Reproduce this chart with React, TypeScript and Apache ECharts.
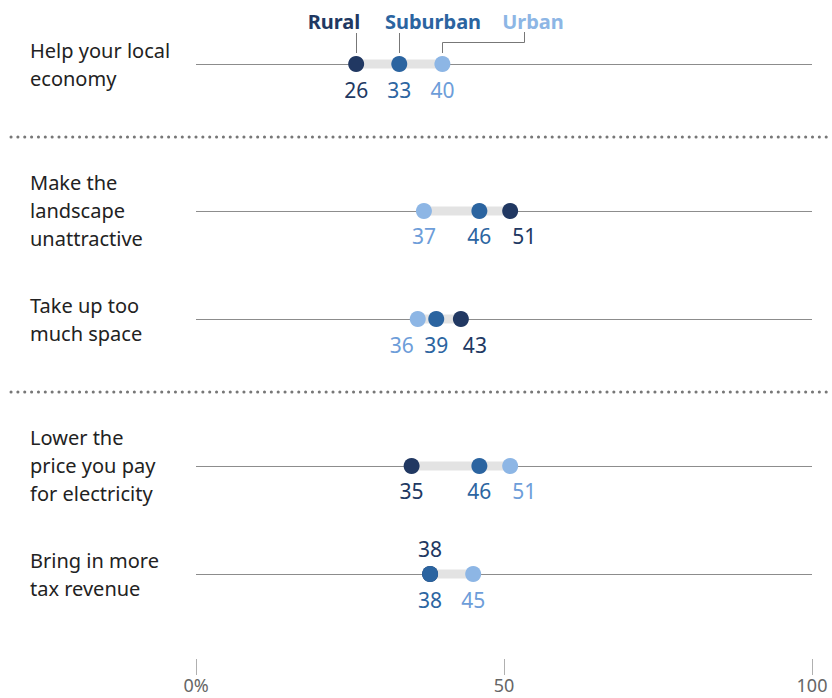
import React, { useEffect, useRef } from 'react';
import * as echarts from 'echarts';

// ---------- data ----------
const categories = [
  'Help your local\neconomy',
  'Make the\nlandscape\nunattractive',
  'Take up too\nmuch space',
  'Lower the\nprice you pay\nfor electricity',
  'Bring in more\ntax revenue',
];
const groupIndex = [0, 1, 1, 2, 2];
const rural = [26, 51, 43, 35, 38];
const suburban = [33, 46, 39, 46, 38];
const urban = [40, 37, 36, 51, 45];
const xTickValues = [0, 50, 100];
const xTickLabels = ['0%', '50', '100'];
const seriesNames = ['Rural', 'Suburban', 'Urban'];

// ---------- layout / style ----------
const W = 832;
const H = 698;
const GROUP_GAP = 0.361;
const CLOSE_GAP = 5; // values this close get their labels pushed apart
const FONT = '"Noto Sans", "Liberation Sans", Arial, sans-serif';
const DOT_COLORS = ['#213862', '#2b64a0', '#8db6e5'];
const LABEL_COLORS = ['#213862', '#2c65a1', '#6d9dd9'];
const LEGEND_COLORS = ['#213862', '#2b64a0', '#8db6e5'];
const LEGEND_CX = [334, 433, 533];

const slots = categories.map((_, i) => i + groupIndex[i] * GROUP_GAP);
const yMin = -0.5;
const yMax = slots[slots.length - 1] + 0.787;

export default function App() {
  const ref = useRef<HTMLDivElement>(null);

  useEffect(() => {
    if (!ref.current) return;
    const chart = echarts.init(ref.current, undefined, { renderer: 'svg' });
    const valuesBySeries = [rural, suburban, urban];

    // label shifts so that neighbouring labels do not collide
    const shifts: number[][] = valuesBySeries.map((vals) => vals.map(() => 0));
    categories.forEach((_, i) => {
      const order = [0, 1, 2]
        .filter((s) => !(s === 0 && rural[i] === suburban[i]))
        .sort((a, b) => valuesBySeries[a][i] - valuesBySeries[b][i]);
      if (order.length === 3) {
        const [a, b, c] = order;
        const va = valuesBySeries[a][i];
        const vb = valuesBySeries[b][i];
        const vc = valuesBySeries[c][i];
        if (vb - va <= CLOSE_GAP) shifts[a][i] = -16;
        if (vc - vb <= CLOSE_GAP) shifts[c][i] = 14;
      }
    });

    const scatterSeries = valuesBySeries.map((vals, s) => ({
      type: 'scatter',
      name: seriesNames[s],
      z: 3 + s,
      symbol: 'circle',
      symbolSize: 16,
      itemStyle: { color: DOT_COLORS[s], opacity: 1 },
      emphasis: { disabled: true },
      label: {
        show: true,
        position: 'bottom',
        distance: 7,
        color: LABEL_COLORS[s],
        fontSize: 21,
        fontFamily: FONT,
        formatter: (p: any) => String(p.value[0]),
      },
      data: vals.map((v, i) => {
        const item: any = { value: [v, slots[i]] };
        if (s === 0 && v === suburban[i]) {
          item.label = { position: 'top', distance: 7 };
        } else if (shifts[s][i] !== 0) {
          item.label = { offset: [shifts[s][i], 0] };
        }
        return item;
      }),
    }));

    const rangeData = slots.map((sl, i) => [
      sl,
      Math.min(rural[i], suburban[i], urban[i]),
      Math.max(rural[i], suburban[i], urban[i]),
    ]);

    chart.setOption({
      animation: false,
      grid: { left: 196, right: 20, top: 10, bottom: 39 },
      xAxis: {
        type: 'value',
        min: 0,
        max: 100,
        interval: 50,
        axisLine: { show: false, onZero: false },
        splitLine: { show: false },
        axisTick: { show: true, length: 16, lineStyle: { color: '#b0b0b0', width: 1 } },
        axisLabel: {
          color: '#666666',
          fontSize: 18,
          fontFamily: FONT,
          margin: 17,
          formatter: (v: number) => {
            const k = xTickValues.indexOf(v);
            return k >= 0 ? xTickLabels[k] : '';
          },
        },
      },
      yAxis: {
        type: 'value',
        inverse: true,
        min: yMin,
        max: yMax,
        show: false,
      },
      series: [
        {
          type: 'custom',
          z: 1,
          silent: true,
          encode: { x: [1, 2], y: 0 },
          data: rangeData,
          renderItem: (params: any, api: any) => {
            const sl = api.value(0);
            const lo = api.value(1);
            const hi = api.value(2);
            const a = api.coord([0, sl]);
            const b = api.coord([100, sl]);
            const p1 = api.coord([lo, sl]);
            const p2 = api.coord([hi, sl]);
            return {
              type: 'group',
              children: [
                {
                  type: 'line',
                  shape: { x1: a[0], y1: a[1] + 0.5, x2: b[0], y2: b[1] + 0.5 },
                  style: { stroke: '#8c8c8c', lineWidth: 1 },
                },
                {
                  type: 'rect',
                  shape: { x: p1[0], y: p1[1] - 4.5, width: p2[0] - p1[0], height: 9 },
                  style: { fill: '#e3e3e3' },
                },
              ],
            };
          },
        },
        ...scatterSeries,
      ],
    });

    // ---------- annotations derived from the chart's own scales ----------
    const px = (x: number, i: number) => chart.convertToPixel({ gridIndex: 0 }, [x, slots[i]]) as number[];
    const graphics: any[] = [];

    categories.forEach((c, i) => {
      graphics.push({
        type: 'text',
        x: 30,
        y: px(0, i)[1],
        style: {
          text: c,
          fontSize: 20,
          fontFamily: FONT,
          fill: '#222222',
          align: 'left',
          verticalAlign: 'middle',
          lineHeight: 28,
        },
      });
    });

    for (let i = 1; i < categories.length; i++) {
      if (groupIndex[i] !== groupIndex[i - 1]) {
        const y = Math.round((px(0, i - 1)[1] + px(0, i)[1]) / 2);
        graphics.push({
          type: 'line',
          shape: { x1: 11, y1: y, x2: 832, y2: y },
          style: { stroke: '#777777', lineWidth: 3, lineDash: [0.1, 6.75], lineCap: 'round' },
        });
      }
    }

    seriesNames.forEach((n, s) => {
      graphics.push({
        type: 'text',
        x: LEGEND_CX[s],
        y: 21,
        style: {
          text: n,
          fontSize: 20,
          fontWeight: 'bold',
          fontFamily: FONT,
          fill: LEGEND_COLORS[s],
          align: 'center',
          verticalAlign: 'middle',
        },
      });
    });

    const rowY = px(0, 0)[1];
    const dotX = valuesBySeries.map((vals) => Math.round(px(vals[0], 0)[0]) + 0.5);
    graphics.push({
      type: 'line',
      shape: { x1: dotX[0], y1: 33, x2: dotX[0], y2: rowY - 11 },
      style: { stroke: '#777777', lineWidth: 1 },
    });
    graphics.push({
      type: 'line',
      shape: { x1: dotX[1], y1: 33, x2: dotX[1], y2: rowY - 11 },
      style: { stroke: '#777777', lineWidth: 1 },
    });
    graphics.push({
      type: 'polyline',
      shape: {
        points: [
          [524.5, 32],
          [524.5, 42.5],
          [dotX[2], 42.5],
          [dotX[2], rowY - 11],
        ],
      },
      style: { stroke: '#777777', lineWidth: 1, fill: 'none' },
    });

    chart.setOption({ graphic: graphics });

    return () => chart.dispose();
  }, []);

  return (
    <div
      ref={ref}
      style={{ position: 'absolute', left: 0, top: 0, width: W, height: H }}
    />
  );
}
